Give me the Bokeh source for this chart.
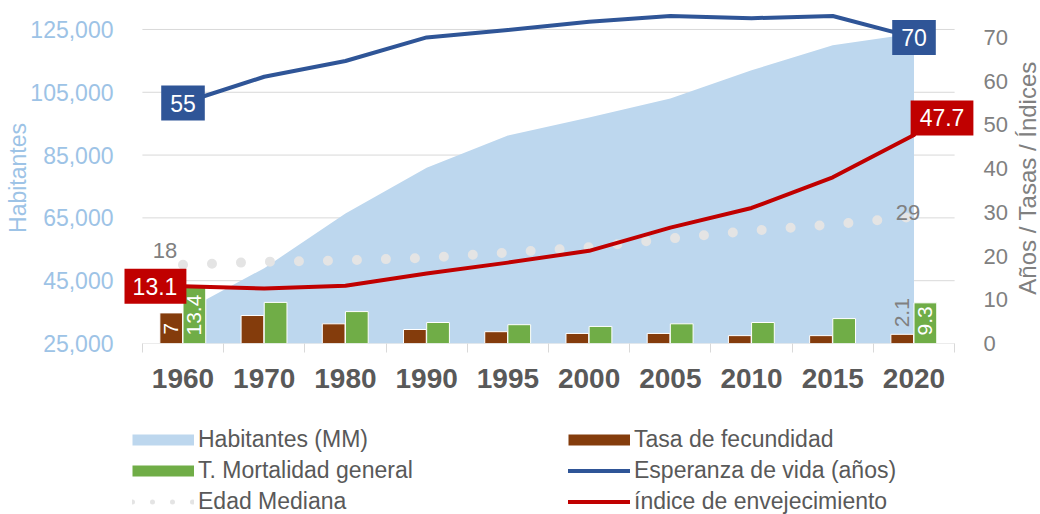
import math
from bokeh.plotting import figure
from bokeh.models import (Range1d, LinearAxis, FixedTicker, NumeralTickFormatter,
                          Legend, LegendItem, ColumnDataSource)
from bokeh.layouts import column, row
from bokeh.transform import dodge
from bokeh.core.properties import value
from bokeh.embed import file_html
from bokeh.resources import INLINE

# ---------------- data ----------------
years = ["1960", "1970", "1980", "1990", "1995", "2000", "2005", "2010", "2015", "2020"]
habitantes = [35000, 49000, 66400, 81000, 91200, 97000, 103000, 112000, 120000, 123700]
fecundidad = [7, 6.4, 4.5, 3.2, 2.7, 2.3, 2.3, 1.8, 1.8, 2.1]
mortalidad = [13.4, 9.4, 7.3, 4.8, 4.3, 3.9, 4.5, 4.8, 5.7, 9.3]
esperanza = [55, 61, 64.6, 70, 71.7, 73.6, 74.9, 74.4, 74.9, 70]
envejecimiento = [13.1, 12.6, 13.2, 16, 18.5, 21.2, 26.5, 31, 38, 47.7]
edad_mediana = [18, 18.7, 19, 19.6, 20.8, 22, 24, 25.8, 27.2, 29]
left_ticks = [25000, 45000, 65000, 85000, 105000, 125000]
right_ticks = [0, 10, 20, 30, 40, 50, 60, 70]
series_names = ["Habitantes (MM)", "Tasa de fecundidad", "T. Mortalidad general",
                "Esperanza de vida (años)", "Edad Mediana", "índice de envejecimiento"]

FONT_NAME = "Liberation Sans"
FONT = value(FONT_NAME)
C_AREA = "#bdd7ee"
C_BROWN = "#843c0c"
C_GREEN = "#70ad47"
C_BLUE = "#2f5597"
C_RED = "#c00000"
C_DOTS = "#e4e4e4"
C_GRID = "#d9d9d9"
C_TXT = "#595959"
C_GRAY = "#808080"
C_LBLUE = "#9dc3e6"

xs = list(range(len(years)))
bounds = [i - 0.5 for i in range(len(years) + 1)]

src = ColumnDataSource(dict(x=xs, hab=habitantes, fec=fecundidad, mort=mortalidad,
                            esp=esperanza, env=envejecimiento, edad=edad_mediana))

def fmt(v):
    return "%g" % v

# geometry (pixels)
W_MAIN, H_MAIN = 1010, 400
FRAME_L, FRAME_R, FRAME_T, FRAME_B = 124, 980, 12, 343
CAT_L, CAT_R = 142, 959
cat_px = (CAT_R - CAT_L) / len(years)
x_start = bounds[0] - (CAT_L - FRAME_L) / cat_px
x_end = bounds[-1] + (FRAME_R - CAT_R) / cat_px

p = figure(width=W_MAIN, height=H_MAIN, x_range=Range1d(x_start, x_end),
           y_range=Range1d(25000, 130400), output_backend="svg", toolbar_location=None,
           min_border_left=FRAME_L, min_border_right=W_MAIN - FRAME_R,
           min_border_top=FRAME_T, min_border_bottom=H_MAIN - FRAME_B)
p.extra_y_ranges = {"right": Range1d(0, 75.7)}
p.outline_line_color = None
p.xgrid.visible = False
p.ygrid.visible = False

# left axis
ya = p.yaxis[0]
ya.ticker = FixedTicker(ticks=left_ticks)
ya.formatter = NumeralTickFormatter(format="0,0")
ya.axis_line_color = None
ya.major_tick_line_color = None
ya.minor_tick_line_color = None
ya.major_label_text_color = C_LBLUE
ya.major_label_text_font = FONT_NAME
ya.major_label_text_font_size = "23px"
ya.major_label_standoff = 5
ya.axis_label = "Habitantes"
ya.axis_label_text_color = C_LBLUE
ya.axis_label_text_font = FONT_NAME
ya.axis_label_text_font_size = "23px"
ya.axis_label_text_font_style = "normal"
ya.axis_label_standoff = -4

# bottom axis
xa = p.xaxis[0]
xa.ticker = FixedTicker(ticks=xs, minor_ticks=bounds)
xa.major_label_overrides = {i: y for i, y in zip(xs, years)}
xa.major_tick_line_color = None
xa.major_tick_out = 0
xa.major_tick_in = 0
xa.minor_tick_out = 9
xa.minor_tick_in = 0
xa.minor_tick_line_color = C_GRID
xa.axis_line_color = None
xa.major_label_text_color = C_TXT
xa.major_label_text_font = FONT_NAME
xa.major_label_text_font_size = "28px"
xa.major_label_text_font_style = "bold"
xa.major_label_standoff = 16

# right axis
ra = LinearAxis(y_range_name="right", ticker=FixedTicker(ticks=right_ticks))
ra.axis_line_color = None
ra.major_tick_line_color = None
ra.minor_tick_line_color = None
ra.major_label_text_color = C_GRAY
ra.major_label_text_font = FONT_NAME
ra.major_label_text_font_size = "22px"
ra.major_label_standoff = 2
p.add_layout(ra, "right")

# ---------------- marks ----------------
p.segment(x0=bounds[0], x1=bounds[-1], y0=left_ticks, y1=left_ticks,
          line_color=C_GRID, line_width=1)
p.varea(x="x", y1=left_ticks[0], y2="hab", source=src, fill_color=C_AREA)
p.vbar(x=dodge("x", -0.145, range=p.x_range), top="fec", width=0.28, bottom=0,
       source=src, y_range_name="right", fill_color=C_BROWN, line_color="white", line_width=1)
p.vbar(x=dodge("x", 0.14, range=p.x_range), top="mort", width=0.28, bottom=0,
       source=src, y_range_name="right", fill_color=C_GREEN, line_color="white", line_width=1)
p.line(x="x", y="edad", source=src, y_range_name="right", line_color=C_DOTS,
       line_width=10, line_dash="0 29", line_cap="round")
p.line(x="x", y="esp", source=src, y_range_name="right", line_color=C_BLUE, line_width=4,
       line_join="round", line_cap="round")
p.line(x="x", y="env", source=src, y_range_name="right", line_color=C_RED, line_width=4,
       line_join="round", line_cap="round")

ends = [0, len(xs) - 1]

# bar labels
p.text(x=[xs[0] - 0.145], y=[0], text=[fmt(fecundidad[0])], y_range_name="right",
       angle=math.pi / 2, text_align="left", text_baseline="middle", y_offset=-9,
       text_color="white", text_font=FONT, text_font_size="21px")
p.text(x=[xs[-1] - 0.145], y=[fecundidad[-1]], text=[fmt(fecundidad[-1])], y_range_name="right",
       angle=math.pi / 2, text_align="left", text_baseline="middle", y_offset=-7,
       text_color=C_GRAY, text_font=FONT, text_font_size="21px")
p.text(x=[xs[i] + 0.14 for i in ends], y=[0, 0], text=[fmt(mortalidad[i]) for i in ends],
       y_range_name="right", angle=math.pi / 2, text_align="left", text_baseline="middle",
       y_offset=-8, text_color="white", text_font=FONT, text_font_size="21px")

# edad mediana labels
p.text(x=[xs[0]], y=[edad_mediana[0]], text=[fmt(edad_mediana[0])], y_range_name="right",
       x_offset=-18, y_offset=-14, text_align="center", text_baseline="middle",
       text_color=C_GRAY, text_font=FONT, text_font_size="22px")
p.text(x=[xs[-1]], y=[edad_mediana[-1]], text=[fmt(edad_mediana[-1])], y_range_name="right",
       x_offset=-6, y_offset=-4, text_align="center", text_baseline="middle",
       text_color=C_GRAY, text_font=FONT, text_font_size="22px")

# esperanza boxes
p.text(x=[xs[i] for i in ends], y=[esperanza[i] for i in ends],
       text=[fmt(esperanza[i]) for i in ends], y_range_name="right",
       text_align="center", text_baseline="middle", text_color="white", text_font=FONT,
       text_font_size="23px", background_fill_color=C_BLUE, padding=9)
# envejecimiento boxes
p.text(x=[xs[0]], y=[envejecimiento[0]], text=[fmt(envejecimiento[0])], y_range_name="right",
       x_offset=-28, text_align="center", text_baseline="middle", text_color="white",
       text_font=FONT, text_font_size="23px", background_fill_color=C_RED, padding=9)
p.text(x=[xs[-1]], y=[envejecimiento[-1]], text=[fmt(envejecimiento[-1])], y_range_name="right",
       x_offset=28, y_offset=-17, text_align="center", text_baseline="middle", text_color="white",
       text_font=FONT, text_font_size="23px", background_fill_color=C_RED, padding=9)

# ---------------- right axis title (as left-axis label of a thin strip) ----------------
W_T = 1040 - W_MAIN
tfig = figure(width=W_T, height=H_MAIN, x_range=Range1d(0, 1), y_range=Range1d(0, 1),
              x_axis_type=None, output_backend="svg", toolbar_location=None,
              min_border_left=W_T - 1, min_border_right=0,
              min_border_top=FRAME_T, min_border_bottom=H_MAIN - FRAME_B)
tfig.outline_line_color = None
tfig.grid.visible = False
ta = tfig.yaxis[0]
ta.ticker = FixedTicker(ticks=[])
ta.axis_line_color = None
ta.major_tick_line_color = None
ta.minor_tick_line_color = None
ta.major_label_text_font_size = "0px"
ta.major_label_standoff = 0
ta.axis_label = "Años / Tasas / Índices"
ta.axis_label_standoff = 0
ta.axis_label_text_color = C_GRAY
ta.axis_label_text_font = FONT_NAME
ta.axis_label_text_font_size = "24px"
ta.axis_label_text_font_style = "normal"

# ---------------- legend ----------------
H_LEG = 514 - H_MAIN
lfig = figure(width=1040, height=H_LEG, x_range=Range1d(0, 1), y_range=Range1d(0, 1),
              x_axis_type=None, y_axis_type=None, output_backend="svg", toolbar_location=None,
              min_border=0)
lfig.outline_line_color = None
lfig.grid.visible = False

def swatch(**kw):
    # single-point line: draws nothing in the plot, only its legend glyph
    return lfig.line(x=[0], y=[0], **kw)

swatches = [
    dict(line_color=C_AREA, line_width=11),
    dict(line_color=C_BROWN, line_width=11),
    dict(line_color=C_GREEN, line_width=11),
    dict(line_color=C_BLUE, line_width=4, line_cap="round"),
    dict(line_color=C_DOTS, line_width=5, line_dash="0 20", line_cap="round"),
    dict(line_color=C_RED, line_width=4, line_cap="round"),
]
items = [LegendItem(label=n, renderers=[swatch(**s)]) for n, s in zip(series_names, swatches)]
legend = Legend(items=items, location=(132, -3), orientation="horizontal", ncols=2,
                glyph_width=62, glyph_height=31, label_height=31, label_width=370,
                label_standoff=4, spacing=0, padding=0, margin=0,
                border_line_color=None, background_fill_alpha=0,
                label_text_font=FONT_NAME, label_text_font_size="23px",
                label_text_color=C_TXT)
lfig.add_layout(legend, "center")

layout = column(row(p, tfig), lfig)
open("out.html", "w").write(file_html(layout, INLINE))
